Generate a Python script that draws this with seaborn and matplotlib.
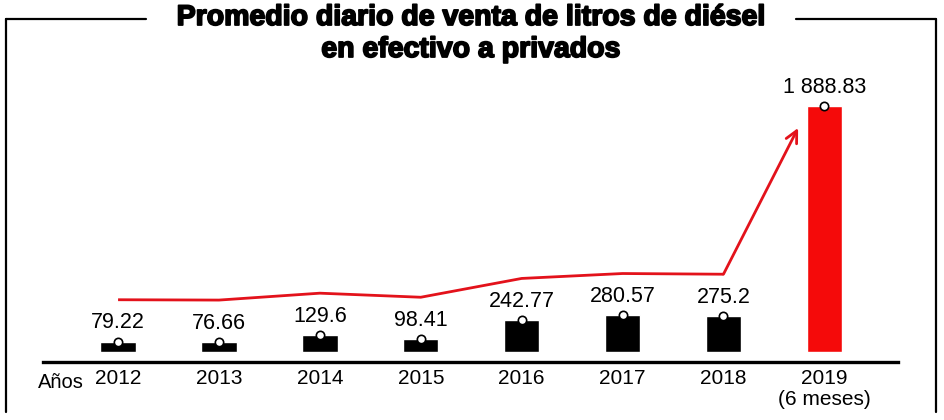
import matplotlib
matplotlib.use('Agg')
import matplotlib.pyplot as plt
import matplotlib.patheffects as pe
from matplotlib.lines import Line2D
import seaborn as sns
import pandas as pd

# data
years = ['2012', '2013', '2014', '2015', '2016', '2017', '2018', '2019']
tick_labels = ['2012', '2013', '2014', '2015', '2016', '2017', '2018', '2019\n(6 meses)']
values = [79.22, 76.66, 129.6, 98.41, 242.77, 280.57, 275.2, 1888.83]
value_labels = ['79.22', '76.66', '129.6', '98.41', '242.77', '280.57', '275.2', '1 888.83']

RED = '#f50a0a'
LINE_RED = '#e3121b'
trend_offset = 322   # red line runs parallel above the bars

sns.set_theme(style='white')
plt.rcParams['font.family'] = ['Liberation Sans', 'DejaVu Sans']
plt.rcParams['text.color'] = 'black'
plt.rcParams['xtick.color'] = 'black'

df = pd.DataFrame({'year': years, 'value': values})
palette = {y: ('black' if y != '2019' else RED) for y in years}

fig = plt.figure(figsize=(9.45, 4.2), dpi=100)
W, H = 945, 420
# axes: x 43..898 px, y from 352 px (bar base) to 60 px
ax = fig.add_axes([43 / W, (H - 352) / H, (898 - 43) / W, (352 - 60) / H])

sns.barplot(data=df, x='year', y='value', hue='year', palette=palette,
            legend=False, width=0.35, saturation=1, ax=ax)

ax.set_xlim(-0.744, 7.73)
ax.set_ylim(0, 2242)

# trend line + arrow
xs = list(range(len(years)))
trend = [v + trend_offset for v in values[:-1]]
ax.plot(xs[:-1], trend, color=LINE_RED, lw=2.0, solid_capstyle='butt', zorder=3)
ax.annotate('', xy=(6.74, 1720), xytext=(6, trend[-1]),
            arrowprops=dict(arrowstyle='->,head_length=0.7,head_width=0.35',
                            color=LINE_RED, lw=2.0, shrinkA=0, shrinkB=0), zorder=3)

# markers and value labels
ax.plot(xs, values, 'o', ms=6, mfc='white', mec='black', mew=1.2, zorder=4)
for x, v, lab in zip(xs, values, value_labels):
    ax.annotate(lab, (x, v), xytext=(0, 6), textcoords='offset points',
                ha='center', va='bottom', fontsize=15.5, color='black')

# axis styling
for s in ['top', 'right', 'left']:
    ax.spines[s].set_visible(False)
ax.spines['bottom'].set_position(('outward', 7.2))
ax.spines['bottom'].set_linewidth(2.4)
ax.spines['bottom'].set_color('black')
ax.set_yticks([])
ax.set_xticks(xs)
ax.set_xticklabels(tick_labels, fontsize=15, linespacing=1.12, color='black')
ax.tick_params(axis='x', length=0, pad=5)
ax.set_xlabel('')
ax.set_ylabel('')
fig.text(38 / W, 1 - 388 / H, 'Años', ha='left', va='baseline', fontsize=14.5)

# frame around the chart
lw = 1.6
fig.add_artist(Line2D([6 / W, 6 / W], [1 - 412 / H, 1 - 19 / H], color='black', lw=lw))
fig.add_artist(Line2D([936 / W, 936 / W], [1 - 412 / H, 1 - 19 / H], color='black', lw=lw))
fig.add_artist(Line2D([6 / W, 146 / W], [1 - 19 / H, 1 - 19 / H], color='black', lw=lw))
fig.add_artist(Line2D([796 / W, 936 / W], [1 - 19 / H, 1 - 19 / H], color='black', lw=lw))

# title
title_fx = [pe.withStroke(linewidth=1.3, foreground='black')]
fig.text(471 / W, 1 - 18 / H, 'Promedio diario de venta de litros de diésel',
         ha='center', va='center', fontsize=20.5, fontweight='bold', path_effects=title_fx)
fig.text(471 / W, 1 - 50 / H, 'en efectivo a privados',
         ha='center', va='center', fontsize=20.5, fontweight='bold', path_effects=title_fx)

fig.savefig('out.png', dpi=100, facecolor='white')
